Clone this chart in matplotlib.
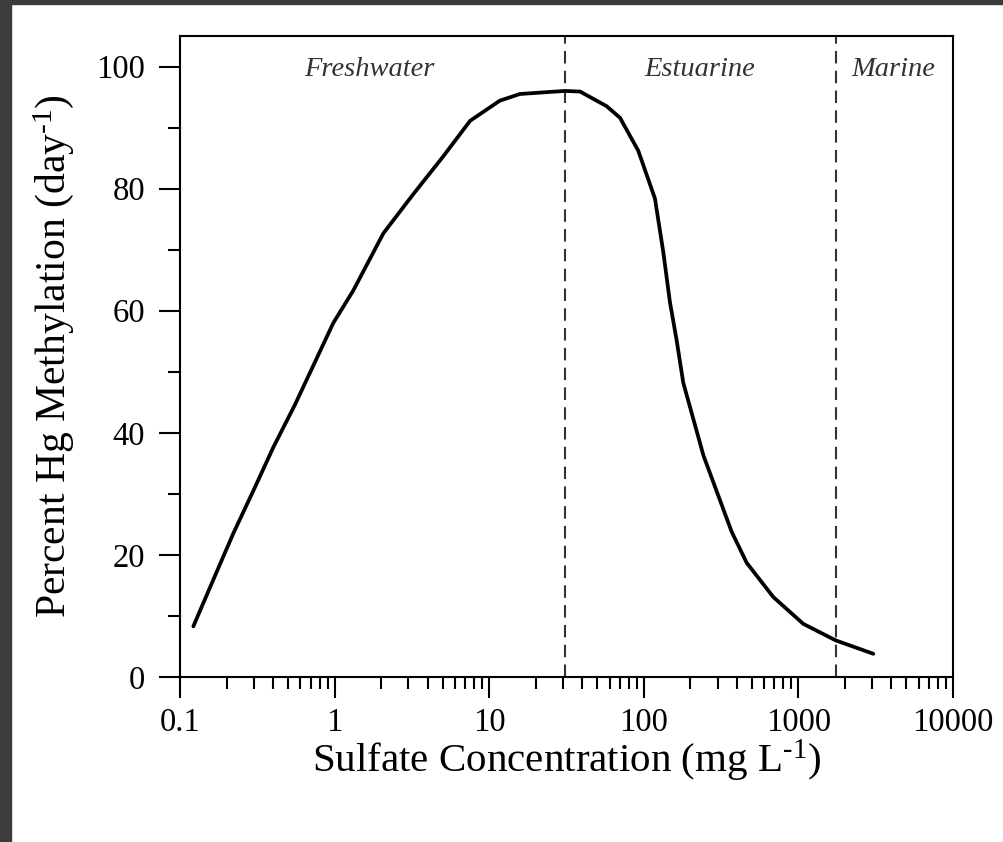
import matplotlib
matplotlib.use("Agg")
import matplotlib.pyplot as plt
from matplotlib.ticker import LogLocator, FixedLocator, NullFormatter
import matplotlib.patches as mpatches

plt.rcParams['font.family'] = ['Liberation Serif', 'DejaVu Serif']
plt.rcParams['mathtext.fontset'] = 'custom'
plt.rcParams['mathtext.rm'] = 'Liberation Serif'
plt.rcParams['mathtext.it'] = 'Liberation Serif:italic'

# Data
sulfate = [0.122, 0.164, 0.221, 0.298, 0.401, 0.554, 0.728, 0.981, 1.32, 2.07,
           3.23, 5.05, 7.52, 11.7, 15.8, 23.5, 30.9, 38.7, 57.5, 70.2, 92.1,
           118, 133.7, 147.6, 163, 180, 243, 370, 463, 688, 1076, 1742, 3053]
methylation = [8.3, 15.9, 23.5, 30.5, 37.6, 44.6, 51.0, 58.0, 63.3, 72.7,
               79.1, 85.3, 91.1, 94.4, 95.5, 95.8, 96.0, 95.9, 93.5, 91.6, 86.2,
               78.4, 69.6, 61.4, 55.2, 48.2, 36.3, 23.8, 18.7, 13.1, 8.7, 6.0, 3.8]
boundaries = [30.9, 1750]
regions = ["Freshwater", "Estuarine", "Marine"]
region_x = [1.69, 231, 4090]
x_ticks = [0.1, 1, 10, 100, 1000, 10000]
x_ticklabels = ["0.1", "1", "10", "100", "1000", "10000"]
y_ticks = [0, 20, 40, 60, 80, 100]

fig = plt.figure(figsize=(10.04, 8.42), dpi=100)
# dark frame border at top and left
fig.patches.append(mpatches.Rectangle((0, 1 - 4 / 842), 1, 4 / 842, transform=fig.transFigure,
                                      color='#3c3c3c', zorder=10))
fig.patches.append(mpatches.Rectangle((0, 0), 11 / 1004, 1, transform=fig.transFigure,
                                      color='#3c3c3c', zorder=10))

ax = fig.add_axes([180 / 1004, 1 - 677 / 842, (953 - 180) / 1004, (677 - 36) / 842])
ax.plot(sulfate, methylation, color='black', lw=2.7, solid_capstyle='round',
        solid_joinstyle='round', zorder=3)
for b in boundaries:
    ax.axvline(b, color='#333333', lw=1.5, ls=(0, (6, 3.5)), zorder=2)

ax.set_xscale('log')
ax.set_xlim(0.1, 10000)
ax.set_ylim(0, 105)
ax.xaxis.set_major_locator(FixedLocator(x_ticks))
ax.set_xticklabels(x_ticklabels)
ax.xaxis.set_minor_locator(LogLocator(base=10, subs=range(2, 10), numticks=20))
ax.xaxis.set_minor_formatter(NullFormatter())
ax.set_yticks(y_ticks)
ax.yaxis.set_minor_locator(FixedLocator([10, 30, 50, 70, 90]))

for s in ax.spines.values():
    s.set_linewidth(1.5)
ax.tick_params(which='major', direction='out', length=15, width=1.5, labelsize=23.5, pad=7)
ax.tick_params(which='minor', direction='out', length=8.5, width=1.5)
ax.tick_params(axis='y', which='major', pad=10)

ax.set_xlabel('Sulfate Concentration (mg L$^{\\mathrm{\u2010}1}$)', fontsize=29.5, labelpad=0)
ax.set_ylabel('Percent Hg Methylation (day$^{\\mathrm{\u2010}1}$)', fontsize=30, labelpad=15)

for name, xr in zip(regions, region_x):
    ax.text(xr, 99.5, name, fontsize=20.5, style='italic', color='#333333',
            ha='center', va='center')

fig.savefig('out.png', dpi=100)
